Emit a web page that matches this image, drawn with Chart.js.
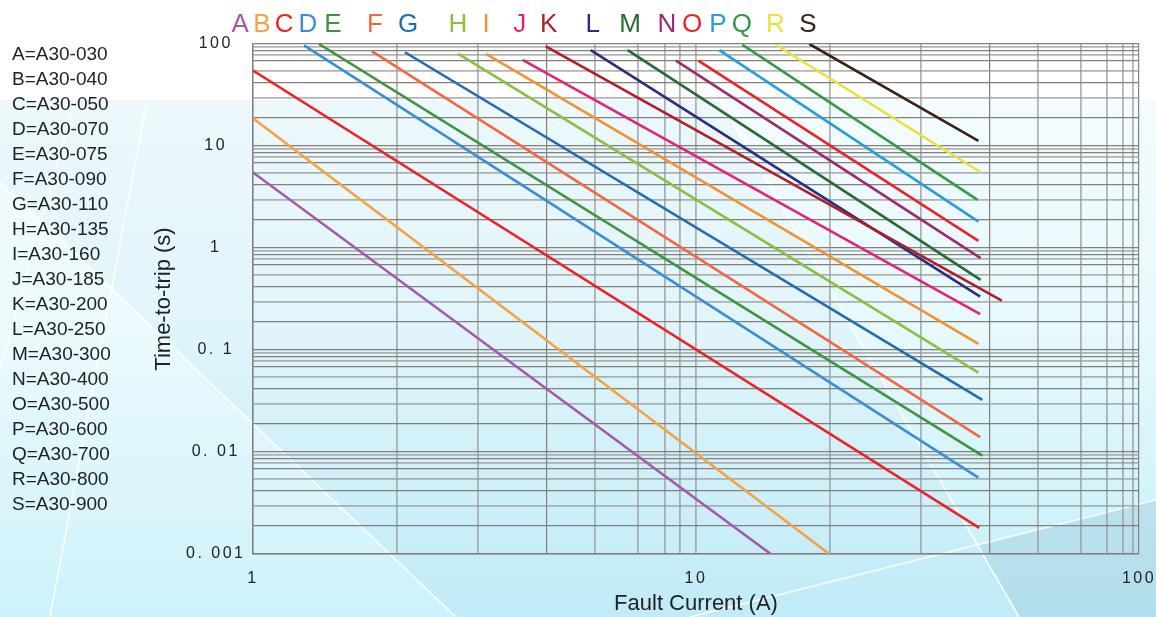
<!DOCTYPE html>
<html>
<head>
<meta charset="utf-8">
<title>A30 Time-to-trip curves</title>
<script src="https://cdn.jsdelivr.net/npm/chart.js@4.4.1/dist/chart.umd.min.js"></script>
<style>
  html, body { margin: 0; padding: 0; background: #ffffff; }
  #wrap { width: 1156px; height: 617px; position: relative; }
</style>
</head>
<body>
<div id="wrap"><canvas id="tripChart" width="1156" height="617"></canvas></div>
<script>
// ---- chart data ----
const letters = ['A','B','C','D','E','F','G','H','I','J','K','L','M','N','O','P','Q','R','S'];
const models = ['A30-030','A30-040','A30-050','A30-070','A30-075','A30-090','A30-110','A30-135','A30-160',
                'A30-185','A30-200','A30-250','A30-300','A30-400','A30-500','A30-600','A30-700','A30-800','A30-900'];
const colors = ['#a658aa','#f4a346','#ec2227','#3b8ed5','#3e9440','#f2693f','#1f6cb2','#8ac040','#f29231',
                '#e2237d','#b01e2c','#2c2e80','#276a35','#9e2a6e','#e8242a','#2a9cdc','#359846','#eae13a','#3b2214'];

// each curve: first point and last point (current in A, time in s)
const startCurrent = [1, 1, 1, 1.304, 1.409, 1.853, 2.203, 2.907, 3.357, 4.06, 4.58, 5.785, 7.01, 9.01, 10.12, 11.29, 12.72, 15.13, 18.03];
const startTime    = [5.5, 18.7, 55, 97, 100, 85, 83, 80, 80, 70, 95, 87, 87, 68.6, 68.6, 87, 98.4, 98.4, 100];
const endCurrent   = [14.75, 20.0, 43.6, 43.4, 44.3, 43.8, 44.3, 43.4, 43.4, 43.8, 49.0, 43.8, 43.9, 43.9, 43.4, 43.4, 43.2, 43.9, 43.4];
const endTime      = [0.001, 0.001, 0.0018, 0.0056, 0.0092, 0.014, 0.0325, 0.06, 0.115, 0.225, 0.305, 0.334, 0.487, 0.795, 1.175, 1.815, 2.96, 5.53, 11.2];

// current at which each curve's letter tag sits above the plot
const letterCurrent = [0.935, 1.048, 1.175, 1.33, 1.515, 1.885, 2.24, 2.90, 3.36, 4.0, 4.65, 5.85, 7.1, 8.6, 9.8, 11.2, 12.7, 15.1, 17.9];

// axis ticks and grid
const timeDecades = [0.001, 0.01, 0.1, 1, 10, 100];
const timeTickLabels = ['0. 001', '0. 01', '0. 1', '1', '10', '100'];
const timeGridSteps = [1.9, 2.95, 4.15, 5.5, 6.9, 7.9, 8.7, 9.35];
const currentDecades = [1, 10, 100];
const currentTickLabels = ['1', '10', '100'];
const currentGridLines = [2.114, 3.226, 4.603, 5.916, 7.408, 8.511, 9.203, 20.07, 32.15, 45.93, 59.25, 73.97, 84.81, 91.89, 97.07];
const currentGridDark = [4.603, 45.93];

// ---- layout constants ----
const FONT = '"Liberation Sans", Arial, Helvetica, sans-serif';
const PAD_LEFT = 5;
const PLOT_LEFT = 253;
const PLOT_BOTTOM = 554;
const DARK_GRID = '#857f7a';
const LIGHT_GRID = 'rgba(150,150,150,0.72)';

function timeTicks() {
  const ticks = [];
  timeDecades.forEach((d, i) => {
    ticks.push({ value: d, major: true, dark: true, label: timeTickLabels[i] });
    if (i < timeDecades.length - 1) {
      timeGridSteps.forEach((m, k) => ticks.push({ value: d * m, dark: k % 2 === 0, label: '' }));
    }
  });
  return ticks.sort((a, b) => a.value - b.value);
}

function currentTicks() {
  const ticks = currentDecades.map((d, i) => ({ value: d, major: true, dark: i !== 1, label: currentTickLabels[i] }));
  currentGridLines.forEach(v => ticks.push({ value: v, dark: currentGridDark.includes(v), label: '' }));
  return ticks.sort((a, b) => a.value - b.value);
}

// soft panel behind the plot
const backdrop = {
  id: 'backdrop',
  beforeDraw(chart) {
    const { ctx, width, height } = chart;
    const top = 100;
    ctx.save();
    ctx.fillStyle = '#ffffff';
    ctx.fillRect(0, 0, width, height);

    const g = ctx.createLinearGradient(0, top, 0, height);
    g.addColorStop(0, '#f3fcfe');
    g.addColorStop(0.45, '#e6f9fd');
    g.addColorStop(1, '#c4eff9');
    ctx.fillStyle = g;
    ctx.fillRect(0, top, width, height - top);

    // faint bluish band between the two long diagonals
    ctx.fillStyle = 'rgba(110,185,225,0.05)';
    ctx.beginPath();
    ctx.moveTo(-83, top); ctx.lineTo(720, top); ctx.lineTo(1019, height); ctx.lineTo(456, height);
    ctx.closePath(); ctx.fill();

    // brighter wedge on the left
    ctx.fillStyle = 'rgba(255,255,255,0.18)';
    ctx.beginPath();
    ctx.moveTo(0, 183); ctx.lineTo(456, height); ctx.lineTo(0, height);
    ctx.closePath(); ctx.fill();

    // darker corner at bottom right
    ctx.fillStyle = 'rgba(70,130,170,0.15)';
    ctx.beginPath();
    ctx.moveTo(978, 545); ctx.lineTo(width, 500); ctx.lineTo(width, height); ctx.lineTo(1019, height);
    ctx.closePath(); ctx.fill();

    // thin white strokes
    ctx.strokeStyle = 'rgba(255,255,255,0.9)';
    ctx.lineWidth = 1.6;
    [[[0, 183], [456, 617]],
     [[720, 100], [1019, 617]],
     [[690, 617], [1156, 500]],
     [[147, 100], [50, 617]],
     [[75, 100], [0, 370]]].forEach(([a, b]) => {
      ctx.beginPath(); ctx.moveTo(a[0], a[1]); ctx.lineTo(b[0], b[1]); ctx.stroke();
    });
    ctx.restore();
  }
};

// letter tags above the plot, placed on the current axis
const letterTags = {
  id: 'letterTags',
  afterDraw(chart) {
    const { ctx, chartArea } = chart;
    const xs = chart.scales.x;
    ctx.save();
    ctx.font = '26px ' + FONT;
    ctx.textAlign = 'center';
    ctx.textBaseline = 'alphabetic';
    letters.forEach((l, i) => {
      ctx.fillStyle = colors[i];
      ctx.fillText(l, xs.getPixelForValue(letterCurrent[i]), chartArea.top - 12);
    });
    ctx.restore();
  }
};

// spaced-out digits on the axis labels
const tickSpacing = {
  id: 'tickSpacing',
  beforeDraw(chart) {
    Object.values(chart.scales).forEach(s => {
      if (s.__spaced) return;
      const orig = s.drawLabels.bind(s);
      s.drawLabels = function (area) {
        const c = this.ctx;
        const prev = c.letterSpacing;
        c.letterSpacing = '2.5px';
        orig(area);
        c.letterSpacing = prev || '0px';
      };
      s.__spaced = true;
    });
  }
};

const gridColor = ctx => (ctx.tick && ctx.tick.dark ? DARK_GRID : LIGHT_GRID);
const gridWidth = ctx => (ctx.tick && ctx.tick.dark ? 1.2 : 1.8);

new Chart(document.getElementById('tripChart'), {
  type: 'line',
  data: {
    datasets: letters.map((l, i) => ({
      label: l + '=' + models[i],
      data: [{ x: startCurrent[i], y: startTime[i] }, { x: endCurrent[i], y: endTime[i] }],
      borderColor: colors[i],
      backgroundColor: colors[i],
      borderWidth: 2.6,
      pointRadius: 0,
      pointHoverRadius: 0,
      fill: false,
      tension: 0
    }))
  },
  options: {
    responsive: false,
    devicePixelRatio: 1,
    animation: false,
    events: [],
    layout: { padding: { top: 44, left: PAD_LEFT, right: 17, bottom: 0 } },
    plugins: {
      tooltip: { enabled: false },
      legend: {
        display: true,
        position: 'left',
        align: 'start',
        labels: {
          boxWidth: 0,
          boxHeight: 27.5,
          padding: -2.5,
          color: '#222',
          font: { size: 19, family: FONT },
          generateLabels: chart => chart.data.datasets.map((ds, i) => ({
            text: ds.label,
            fillStyle: 'rgba(0,0,0,0)',
            strokeStyle: 'rgba(0,0,0,0)',
            lineWidth: 0,
            hidden: false,
            datasetIndex: i,
            fontColor: '#222'
          }))
        }
      }
    },
    scales: {
      x: {
        type: 'logarithmic',
        position: 'bottom',
        min: 1,
        max: 100,
        afterBuildTicks: scale => { scale.ticks = currentTicks(); },
        afterFit: scale => {
          scale.height = 617 - PLOT_BOTTOM;
          scale.paddingLeft = 0;
          scale.paddingRight = 0;
        },
        ticks: {
          autoSkip: false,
          maxRotation: 0,
          minRotation: 0,
          padding: 15,
          color: '#222',
          font: { size: 16, family: FONT },
          callback: (value, index, ticks) => ticks[index].label
        },
        grid: { color: gridColor, lineWidth: gridWidth, drawTicks: false },
        border: { display: true, color: DARK_GRID, width: 1.5 },
        title: {
          display: true,
          text: 'Fault Current (A)',
          color: '#222',
          font: { size: 22, family: FONT },
          padding: { top: 0, bottom: 0 }
        }
      },
      y: {
        type: 'logarithmic',
        position: 'left',
        min: 0.001,
        max: 100,
        afterBuildTicks: scale => { scale.ticks = timeTicks(); },
        afterFit: scale => {
          const lw = scale.chart.legend ? scale.chart.legend.width : 0;
          scale.width = PLOT_LEFT - PAD_LEFT - lw;
        },
        ticks: {
          autoSkip: false,
          crossAlign: 'center',
          padding: 15,
          color: '#222',
          font: { size: 16, family: FONT },
          callback: (value, index, ticks) => ticks[index].label
        },
        grid: { color: gridColor, lineWidth: gridWidth, drawTicks: false },
        border: { display: true, color: DARK_GRID, width: 1.5 },
        title: {
          display: true,
          text: 'Time-to-trip (s)',
          color: '#222',
          font: { size: 22, family: FONT },
          padding: { top: 30, bottom: 0 }
        }
      }
    }
  },
  plugins: [backdrop, tickSpacing, letterTags]
});
</script>
</body>
</html>
